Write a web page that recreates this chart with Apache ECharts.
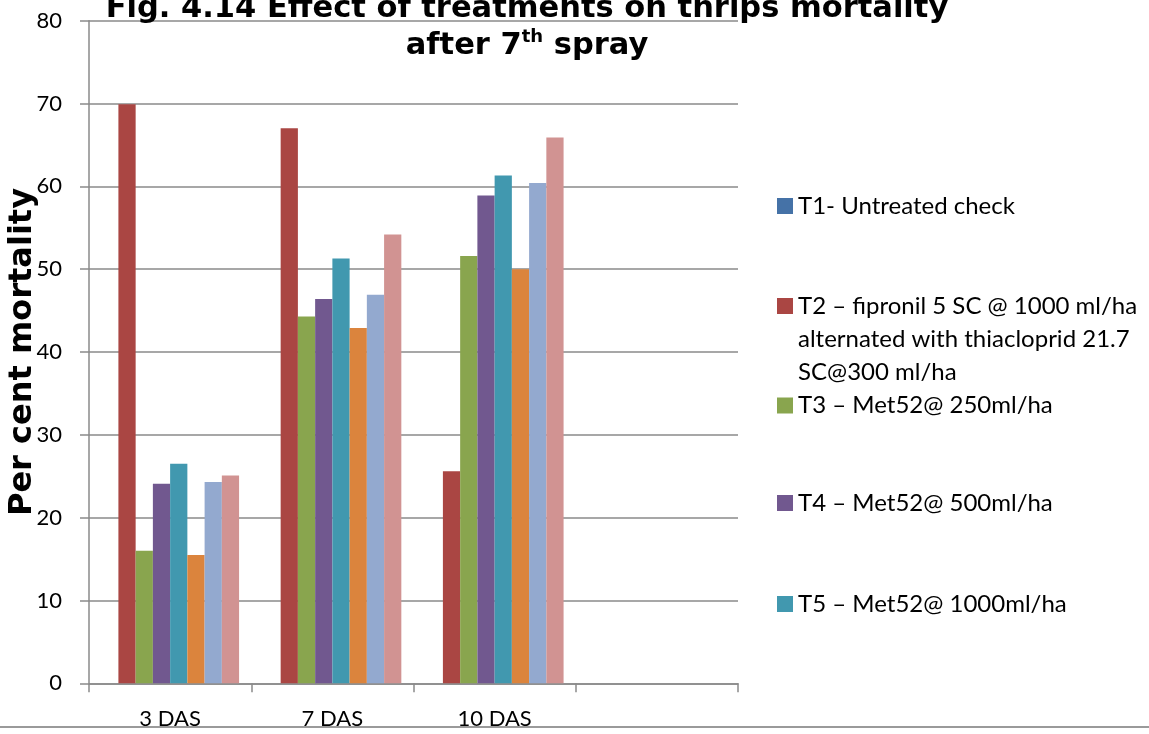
<!DOCTYPE html>
<html>
<head>
<meta charset="utf-8">
<script src="https://cdn.jsdelivr.net/npm/echarts@6/dist/echarts.min.js"></script>
<style>
  html, body { margin: 0; padding: 0; background: #fff; }
  #chart { width: 1149px; height: 734px; }
</style>
</head>
<body>
<div id="chart"></div>
<script>
// Sampling days after spray (last slot is left empty on purpose)
const categories = ['3 DAS', '7 DAS', '10 DAS', ''];

// Treatment names
const treatmentNames = [
  'T1- Untreated check',
  'T2 – fipronil 5 SC @ 1000 ml/ha alternated with thiacloprid 21.7 SC@300 ml/ha',
  'T3 – Met52@ 250ml/ha',
  'T4 – Met52@ 500ml/ha',
  'T5 – Met52@ 1000ml/ha',
  'T6',
  'T7',
  'T8'
];

// Per cent mortality for each treatment
const t1Values = [0, 0, 0, null];
const t2Values = [69.9, 67.0, 25.6, null];
const t3Values = [16.0, 44.3, 51.6, null];
const t4Values = [24.1, 46.4, 58.9, null];
const t5Values = [26.5, 51.3, 61.3, null];
const t6Values = [15.5, 42.9, 50.0, null];
const t7Values = [24.3, 46.9, 60.4, null];
const t8Values = [25.1, 54.2, 65.9, null];

// Y-axis ticks
const yTicks = { min: 0, max: 80, step: 10 };

const palette = ['#4572A7', '#AA4643', '#89A54E', '#71588F', '#4198AF', '#DB843D', '#93A9CF', '#D19392'];
const allValues = [t1Values, t2Values, t3Values, t4Values, t5Values, t6Values, t7Values, t8Values];

const bodyFont = 'Lato';
const gridGrey = '#8a8a8a';

const series = allValues.map((vals, i) => ({
  name: treatmentNames[i],
  type: 'bar',
  data: vals,
  barGap: '0%',
  barCategoryGap: '15%',
  itemStyle: { color: palette[i] },
  emphasis: { disabled: true }
}));

// Legend entries: only the first five fit in the panel.
// The wrapped entry gets two leading blank lines so its swatch sits on the first line.
const legendWrap = {
  [treatmentNames[1]]: '\n\nT2 – fipronil 5 SC @ 1000 ml/ha\nalternated with thiacloprid 21.7\nSC@300 ml/ha'
};
const legendRows = [
  { idx: 0, center: 206 },
  { idx: 1, center: 306 },
  { idx: 2, center: 405.5 },
  { idx: 3, center: 503 },
  { idx: 4, center: 604 }
];
const legendLine = 33;
const legends = legendRows.map(r => {
  const multi = !!legendWrap[treatmentNames[r.idx]];
  const half = multi ? legendLine * 2.5 : legendLine / 2;
  return {
    show: true,
    data: [treatmentNames[r.idx]],
    left: 777,
    top: r.center - half,
    orient: 'vertical',
    padding: 0,
    itemWidth: 16,
    itemHeight: 16,
    itemGap: 5,
    icon: 'rect',
    selectedMode: false,
    formatter: name => legendWrap[name] || name,
    textStyle: {
      fontFamily: bodyFont,
      fontSize: 24,
      color: '#000',
      lineHeight: legendLine
    }
  };
});

const chart = echarts.init(document.getElementById('chart'), null, { renderer: 'canvas' });
chart.setOption({
  backgroundColor: '#fff',
  animation: false,
  title: {
    text: 'Fig. 4.14 Effect of treatments on thrips mortality\nafter 7{sup|th} spray',
    left: 527,
    top: -9,
    textAlign: 'center',
    padding: 0,
    textStyle: {
      fontFamily: 'DejaVu Sans',
      fontWeight: 'bold',
      fontSize: 30.5,
      lineHeight: 37,
      color: '#000',
      rich: {
        sup: {
          fontFamily: 'DejaVu Sans',
          fontWeight: 'bold',
          fontSize: 18,
          verticalAlign: 'top',
          lineHeight: 37,
          color: '#000',
          padding: [0, 0, 12, 0]
        }
      }
    }
  },
  legend: legends,
  grid: { left: 89, right: 411, top: 20.7, bottom: 50.7, containLabel: false, outerBoundsMode: 'none' },
  xAxis: {
    type: 'category',
    data: categories,
    axisLine: { show: true, lineStyle: { color: gridGrey, width: 1.5 } },
    axisTick: { show: true, length: 9, lineStyle: { color: gridGrey, width: 1.5 } },
    axisLabel: { fontFamily: bodyFont, fontSize: 22, color: '#000', margin: 25 },
    splitLine: { show: false }
  },
  yAxis: {
    type: 'value',
    min: yTicks.min,
    max: yTicks.max,
    interval: yTicks.step,
    axisLine: { show: true, lineStyle: { color: gridGrey, width: 1.5 } },
    axisTick: { show: true, length: 9, lineStyle: { color: gridGrey, width: 1.5 } },
    axisLabel: { fontFamily: bodyFont, fontSize: 22, color: '#000', margin: 27 },
    splitLine: { show: true, lineStyle: { color: gridGrey, width: 1.5 } },
    name: 'Per cent mortality',
    nameLocation: 'middle',
    nameGap: 50,
    nameMoveOverlap: false,
    nameTextStyle: { fontFamily: 'DejaVu Sans', fontWeight: 'bold', fontSize: 32, color: '#000' }
  },
  graphic: [
    {
      type: 'line',
      shape: { x1: 0, y1: 727, x2: 1149, y2: 727 },
      style: { stroke: '#9a9a9a', lineWidth: 2 },
      silent: true
    }
  ],
  series: series
});
</script>
</body>
</html>
